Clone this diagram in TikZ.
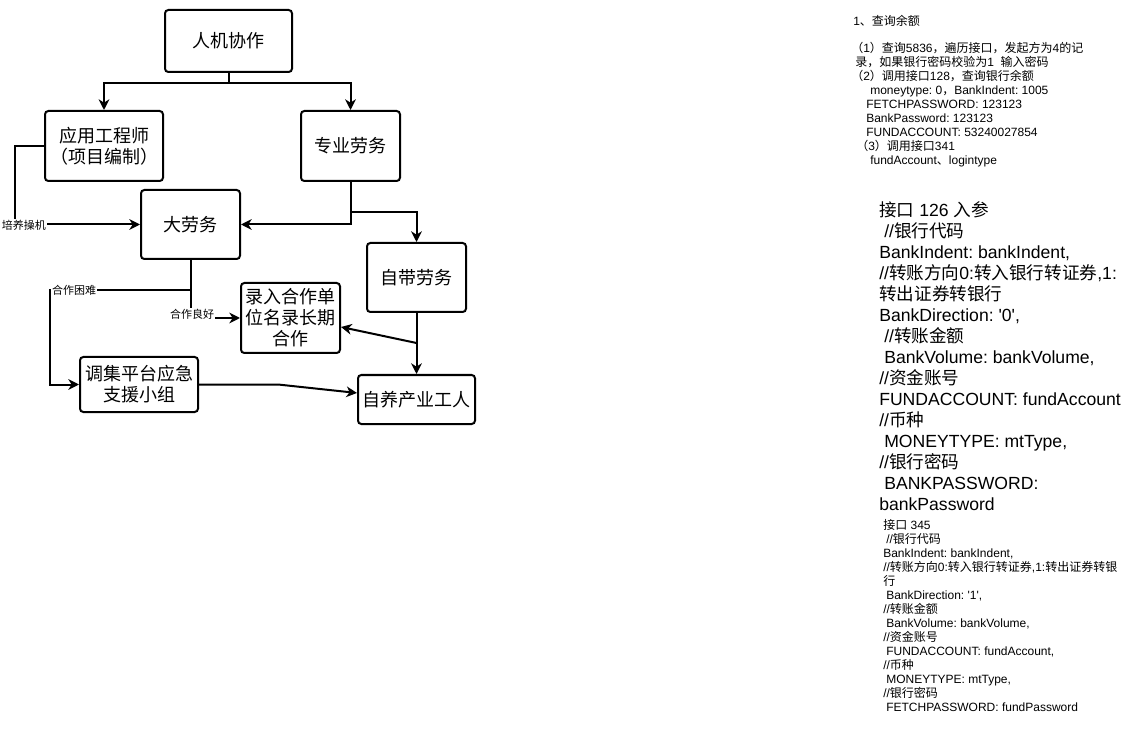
\documentclass[tikz,border=0pt]{standalone}
\usepackage{fontspec}
\setmainfont{Liberation Sans}
\newfontfamily\cjk{Noto Sans CJK SC}
\usetikzlibrary{arrows.meta}
\newcommand\C[1]{{\cjk #1}}
\newcommand\sq{\textquotesingle}
\frenchspacing
\begin{document}
\begin{tikzpicture}[x=0.75pt,y=-0.75pt,
  box/.style={draw, line width=1.5pt, rounded corners=2.5pt, align=center, inner sep=0pt,
    font=\cjk\fontsize{13.5}{15.75}\selectfont},
  arr/.style={line width=1.5pt, -{Stealth[length=8pt,width=8pt,inset=2.5pt]}},
  ln/.style={line width=1.5pt},
  lab/.style={fill=white, inner sep=0.6pt, font=\cjk\fontsize{8.25}{9}\selectfont},
  sm/.style={anchor=base west, inner sep=0pt, font=\fontsize{9}{10.5}\selectfont},
  lg/.style={anchor=base west, inner sep=0pt, font=\fontsize{13.2}{15}\selectfont}]
\useasboundingbox[fill=white] (0,0) rectangle (1132,752);

% ---------- boxes ----------
\node[box, minimum width=95.25pt, minimum height=46.5pt] (top) at (228.5,41) {人机协作};
\node[box, minimum width=88.5pt, minimum height=52.5pt] (app) at (104,146) {应用工程师\\（项目编制）};
\node[box, minimum width=74.25pt, minimum height=52.5pt] (pro) at (350.5,146) {专业劳务};
\node[box, minimum width=74.25pt, minimum height=51.75pt] (big) at (190.5,224.5) {大劳务};
\node[box, minimum width=74.25pt, minimum height=51.75pt] (self) at (416.5,277.5) {自带劳务};
\node[box, minimum width=74.25pt, minimum height=52.5pt] (rec) at (290.5,318) {录入合作单\\位名录长期\\合作};
\node[box, minimum width=88.5pt, minimum height=41.25pt] (team) at (139,384.5) {调集平台应急\\支援小组};
\node[box, minimum width=87.75pt, minimum height=36.75pt] (work) at (416.5,399.5) {自养产业工人};

% ---------- connectors ----------
\coordinate (j1) at (228.5,83);
\draw[ln] (top.south) -- (j1);
\draw[arr] (j1) -| (app.north);
\draw[arr] (j1) -| (pro.north);

\coordinate (c1) at (15,146);
\draw[arr] (app.west) -- (c1) |- (big.west);
\node[lab] (l1) at (24,225) {培养操机};

\draw[arr] (pro.south) |- (big.east);
\coordinate (j2) at (350.5,212);
\draw[arr] (j2) -| (self.north);

\coordinate (j5) at (190.5,290);
\coordinate (c2) at (50,290);
\draw[arr] (big.south) -- (j5) -- (c2) |- (team.west);
\node[lab] (l2) at (74,290) {合作困难};
\draw[arr] (big.south) |- (rec.west);
\node[lab] (l3) at (192,314) {合作良好};

\draw[arr] (self.south) -- (work.north);
\coordinate (j3) at (416.5,343);
\draw[arr] (j3) -- ([yshift=-6.75pt]rec.east);

\coordinate (j4) at (278,384.5);
\draw[arr] (team.east) -- (j4) -- ([yshift=4.9pt]work.west);

% ---------- text block 1 ----------
\node[sm] (a1) at (853,25.4) {1\C{、查询余额}};
\node[sm] (a2) at (851,52.4) {\C{（}1\C{）查询}5836\C{，遍历接口，发起方为}4\C{的记}};
\node[sm] (a3) at (855,66.4) {\C{录，如果银行密码校验为}1\ \ \C{输入密码}};
\node[sm] (a4) at (851,80.4) {\C{（}2\C{）调用接口}128\C{，查询银行余额}};
\node[sm] (a5) at (870,94.4) {moneytype: 0\C{，}BankIndent: 1005};
\node[sm] (a6) at (866,108.4) {FETCHPASSWORD: 123123};
\node[sm] (a7) at (866,122.4) {BankPassword: 123123};
\node[sm] (a8) at (866,136.4) {FUNDACCOUNT: 53240027854};
\node[sm] (a9) at (856,150.4) {\C{（}3\C{）调用接口}341};
\node[sm] (a10) at (870,164.4) {fundAccount\C{、}logintype};

% ---------- text block 2 ----------
\node[lg] (b1) at (879,216.5) {\C{接口} 126 \C{入参}};
\node[lg] (b2) at (884,237.5) {//\C{银行代码}};
\node[lg] (b3) at (879,258.5) {BankIndent: bankIndent,};
\node[lg] (b4) at (879,279.5) {//\C{转账方向}0:\C{转入银行转证券},1:};
\node[lg] (b5) at (879,300.5) {\C{转出证券转银行}};
\node[lg] (b6) at (879,321.5) {BankDirection: \sq0\sq,};
\node[lg] (b7) at (884,342.5) {//\C{转账金额}};
\node[lg] (b8) at (884,363.5) {BankVolume: bankVolume,};
\node[lg] (b9) at (879,384.5) {//\C{资金账号}};
\node[lg] (b10) at (879,405.5) {FUNDACCOUNT: fundAccount};
\node[lg] (b11) at (879,426.5) {//\C{币种}};
\node[lg] (b12) at (884,447.5) {MONEYTYPE: mtType,};
\node[lg] (b13) at (879,468.5) {//\C{银行密码}};
\node[lg] (b14) at (884,489.5) {BANKPASSWORD:};
\node[lg] (b15) at (879,510.5) {bankPassword};

% ---------- text block 3 ----------
\node[sm] (d1) at (883,529.4) {\C{接口} 345};
\node[sm] (d2) at (886,543.4) {//\C{银行代码}};
\node[sm] (d3) at (883,557.4) {BankIndent: bankIndent,};
\node[sm] (d4) at (883,571.4) {//\C{转账方向}0:\C{转入银行转证券},1:\C{转出证券转银}};
\node[sm] (d5) at (883,585.4) {\C{行}};
\node[sm] (d6) at (886,599.4) {BankDirection: \sq1\sq,};
\node[sm] (d7) at (883,613.4) {//\C{转账金额}};
\node[sm] (d8) at (886,627.4) {BankVolume: bankVolume,};
\node[sm] (d9) at (883,641.4) {//\C{资金账号}};
\node[sm] (d10) at (886,655.4) {FUNDACCOUNT: fundAccount,};
\node[sm] (d11) at (883,669.4) {//\C{币种}};
\node[sm] (d12) at (886,683.4) {MONEYTYPE: mtType,};
\node[sm] (d13) at (883,697.4) {//\C{银行密码}};
\node[sm] (d14) at (886,711.4) {FETCHPASSWORD: fundPassword};
\end{tikzpicture}
\end{document}
